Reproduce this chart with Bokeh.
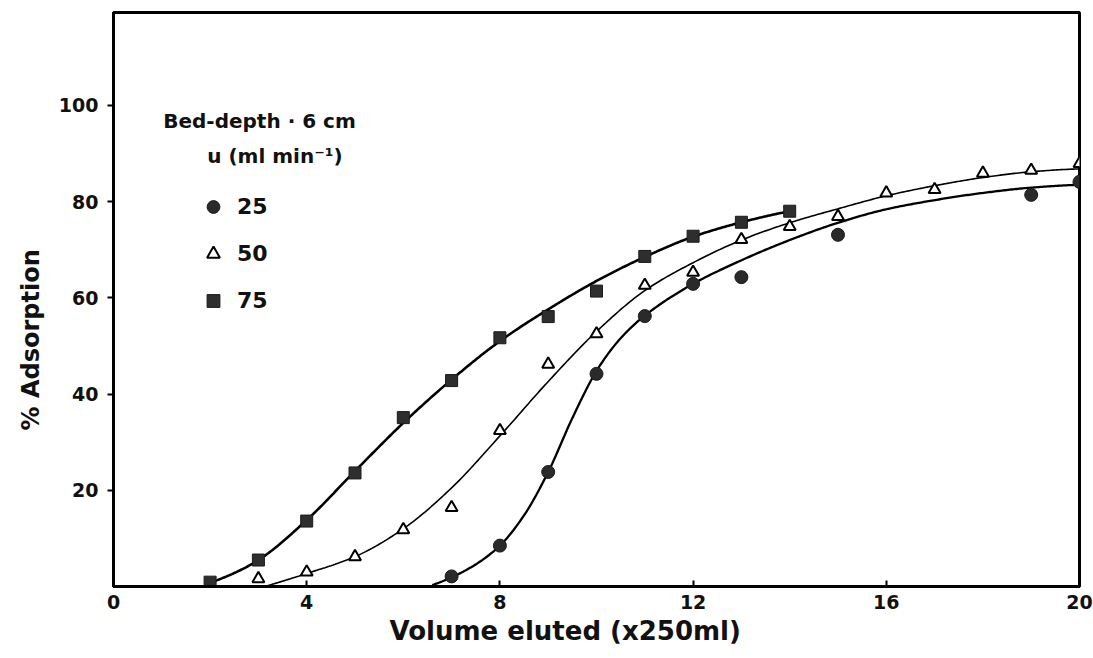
import numpy as np
from bokeh.plotting import figure
from bokeh.models import Label, Legend, LegendItem, FixedTicker, Title
from bokeh.embed import file_html
from bokeh.resources import INLINE

# ---- measured points (volume eluted, x250 ml  /  % adsorption) ----
vol_25 = [7, 8, 9, 10, 11, 12, 13, 15, 19, 20]
ads_25 = [2.1, 8.5, 23.8, 44.2, 56.2, 62.9, 64.3, 73.1, 81.4, 84.1]

vol_50 = [3, 4, 5, 6, 7, 8, 9, 10, 11, 12, 13, 14, 15, 16, 17, 18, 19, 20]
ads_50 = [1.6, 3.0, 6.2, 11.8, 16.4, 32.4, 46.2, 52.5, 62.6, 65.3, 72.1, 74.8,
          76.9, 81.8, 82.5, 85.9, 86.5, 87.9]

vol_75 = [2, 3, 4, 5, 6, 7, 8, 9, 10, 11, 12, 13, 14]
ads_75 = [0.9, 5.5, 13.6, 23.6, 35.1, 42.8, 51.7, 56.1, 61.4, 68.6, 72.8, 75.7, 78.0]

# ---- hand-drawn fitted curves (knots) ----
fit_x_25 = [6.6, 7, 7.5, 8, 8.5, 9, 9.5, 10, 10.5, 11, 12, 13, 14, 15, 16, 17, 18, 19, 20]
fit_y_25 = [0.3, 1.9, 4.6, 8.5, 14.8, 23.8, 35.0, 44.8, 51.6, 56.3, 62.9, 67.8, 72.0,
            75.6, 78.4, 80.3, 81.8, 82.9, 83.5]

fit_x_50 = [3.2, 4, 5, 6, 7, 8, 9, 10, 11, 12, 13, 14, 15, 16, 17, 18, 19, 20]
fit_y_50 = [0.2, 2.7, 6.2, 12.0, 20.5, 31.3, 42.6, 53.0, 61.5, 67.3, 72.0, 75.6,
            78.5, 81.2, 83.3, 85.0, 86.2, 86.8]

fit_x_75 = [2.0, 2.5, 3, 4, 5, 6, 7, 8, 9, 10, 11, 12, 13, 14]
fit_y_75 = [0.8, 2.8, 5.5, 13.8, 24.0, 34.0, 43.0, 51.0, 57.6, 63.5, 68.5, 72.7, 75.7, 78.0]

x_ticks = [0, 4, 8, 12, 16, 20]
y_ticks = [20, 40, 60, 80, 100]
series_labels = ["25", "50", "75"]

FONT = "DejaVu Sans"
INK = "#111111"


def pchip(xk, yk, n=400):
    xk = np.asarray(xk, float)
    yk = np.asarray(yk, float)
    h = np.diff(xk)
    d = np.diff(yk) / h
    m = np.zeros_like(xk)
    for k in range(1, len(xk) - 1):
        if d[k - 1] * d[k] > 0:
            w1 = 2 * h[k] + h[k - 1]
            w2 = h[k] + 2 * h[k - 1]
            m[k] = (w1 + w2) / (w1 / d[k - 1] + w2 / d[k])

    def end(h0, h1, d0, d1):
        s = ((2 * h0 + h1) * d0 - h0 * d1) / (h0 + h1)
        if np.sign(s) != np.sign(d0):
            s = 0.0
        elif np.sign(d0) != np.sign(d1) and abs(s) > 3 * abs(d0):
            s = 3 * d0
        return s

    m[0] = end(h[0], h[1], d[0], d[1])
    m[-1] = end(h[-1], h[-2], d[-1], d[-2])
    xs = np.linspace(xk[0], xk[-1], n)
    i = np.clip(np.searchsorted(xk, xs) - 1, 0, len(xk) - 2)
    t = (xs - xk[i]) / h[i]
    h00 = 2 * t**3 - 3 * t**2 + 1
    h10 = t**3 - 2 * t**2 + t
    h01 = -2 * t**3 + 3 * t**2
    h11 = t**3 - t**2
    ys = h00 * yk[i] + h10 * h[i] * m[i] + h01 * yk[i + 1] + h11 * h[i] * m[i + 1]
    return xs, ys


p = figure(width=1093, height=650, x_range=(0, 20), y_range=(0, 119.3),
           output_backend="svg", toolbar_location=None,
           min_border_left=113, min_border_right=14, min_border_top=12,
           min_border_bottom=64)
p.background_fill_color = "white"
p.border_fill_color = "white"
p.outline_line_color = "black"
p.outline_line_width = 3
p.grid.visible = False

# axes
for ax in (p.xaxis, p.yaxis):
    ax.axis_line_width = 3
    ax.axis_line_color = "black"
    ax.major_tick_line_width = 2
    ax.minor_tick_line_color = None
    ax.major_label_text_font = FONT
    ax.major_label_text_font_style = "bold"
    ax.major_label_text_font_size = "19px"
    ax.major_label_text_color = INK

p.xaxis.ticker = FixedTicker(ticks=x_ticks)
p.xaxis.major_tick_in = 6
p.xaxis.major_tick_out = 0
p.xaxis.major_label_standoff = 8

p.yaxis.ticker = FixedTicker(ticks=y_ticks)
p.yaxis.major_tick_in = 0
p.yaxis.major_tick_out = 6
p.yaxis.major_label_standoff = 9

# axis titles (as side titles so they can be offset like the original)
p.add_layout(Title(text="Volume eluted (x250ml)", align="left", offset=276,
                   standoff=4, text_font=FONT, text_font_style="bold",
                   text_font_size="26px", text_color=INK), "below")
p.add_layout(Title(text="% Adsorption", align="left", offset=156,
                   standoff=22, text_font=FONT, text_font_style="bold",
                   text_font_size="24px", text_color=INK), "left")

# curves
for fx, fy, lw in ((fit_x_75, fit_y_75, 2.6), (fit_x_50, fit_y_50, 1.6),
                   (fit_x_25, fit_y_25, 2.3)):
    xs, ys = pchip(fx, fy)
    p.line(xs, ys, line_color="black", line_width=lw)

# points
r25 = p.scatter(vol_25, ads_25, marker="circle", size=13, fill_color="#2a2a2a",
                line_color="#1a1a1a", line_width=1)
r50 = p.scatter(vol_50, ads_50, marker="triangle", size=12, fill_color="white",
                line_color="black", line_width=2)
r75 = p.scatter(vol_75, ads_75, marker="square", size=12, fill_color="#2e2e2e",
                line_color="#1a1a1a", line_width=1)

legend = Legend(items=[LegendItem(label=series_labels[0], renderers=[r25]),
                       LegendItem(label=series_labels[1], renderers=[r50]),
                       LegendItem(label=series_labels[2], renderers=[r75])],
                location=(84, 262))
legend.glyph_width = 32
legend.glyph_height = 47
legend.label_height = 47
legend.spacing = 0
legend.padding = 0
legend.margin = 0
legend.label_standoff = 8
legend.label_text_font = FONT
legend.label_text_font_style = "bold"
legend.label_text_font_size = "22px"
legend.label_text_color = INK
legend.background_fill_alpha = 0
legend.border_line_alpha = 0
p.add_layout(legend)

p.add_layout(Label(x=1.03, y=96.7, text="Bed-depth · 6 cm", text_align="left",
                   text_baseline="middle", text_font=FONT, text_font_style="bold",
                   text_font_size="20px", text_color=INK))
p.add_layout(Label(x=1.94, y=89.4, text="u (ml min⁻¹)", text_align="left",
                   text_baseline="middle", text_font=FONT, text_font_style="bold",
                   text_font_size="20px", text_color=INK))

open("out.html", "w").write(file_html(p, INLINE))
